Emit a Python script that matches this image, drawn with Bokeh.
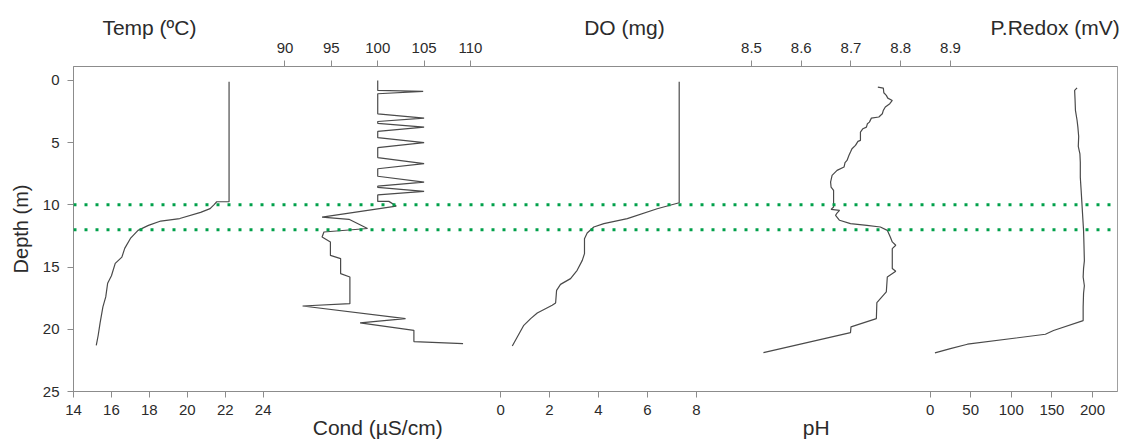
from bokeh.plotting import figure
from bokeh.models import Range1d, LinearAxis, FixedTicker, Span
from bokeh.embed import file_html
from bokeh.resources import INLINE

# ---------------- data ----------------
temp_depth = [0.1, 9.75, 9.75, 10.0, 10.3, 10.6, 11.1, 11.3, 11.65, 12.05, 12.7, 13.5,
              14.2, 14.7, 15.7, 16.3, 17.4, 18.2, 19.5, 20.5, 21.3]
temp_c = [22.2, 22.2, 21.55, 21.4, 21.2, 20.7, 19.6, 18.6, 17.95, 17.4, 17.0, 16.7,
          16.55, 16.2, 16.0, 15.8, 15.7, 15.55, 15.4, 15.3, 15.2]

cond_depth = [0.0, 0.8, 0.88, 1.07, 2.68, 3.03, 3.3, 3.45, 3.75, 4.1, 4.6, 5.0, 5.4,
              6.2, 6.69, 7.1, 7.7, 8.17, 8.5, 8.6, 8.92, 9.2, 9.72, 9.72, 10.1, 10.98,
              11.16, 11.9, 12.18, 12.58, 12.98, 14.06, 14.32, 15.53, 15.8, 17.94, 18.13,
              19.14, 19.49, 20.08, 20.99, 21.15]
cond_us = [100, 100, 104.9, 100, 100, 105, 100, 100, 105, 100, 100, 105, 100,
           100, 105, 100, 100, 105, 100, 100, 105, 100, 100, 101.2, 102.0, 94.0,
           96.9, 98.9, 94.2, 94.0, 94.9, 94.9, 96.0, 96.0, 97.0, 97.0, 91.9,
           103.0, 98.1, 103.9, 103.9, 109.2]

do_depth = [0.1, 9.83, 10.31, 11.11, 11.51, 11.78, 12.26, 12.72, 13.92, 14.46, 15.26,
            15.93, 16.39, 16.87, 17.89, 18.07, 18.69, 19.14, 19.68, 21.34]
do_mg = [7.30, 7.30, 6.40, 5.18, 4.22, 3.81, 3.54, 3.43, 3.43, 3.34, 3.13,
         2.86, 2.45, 2.29, 2.25, 2.11, 1.50, 1.23, 0.95, 0.48]

ph_depth = [0.54, 0.62, 0.99, 1.2, 1.42, 1.61, 1.87, 2.14, 2.41, 2.68, 2.94, 3.03,
            3.35, 3.48, 3.75, 3.88, 4.15, 4.82, 4.9, 5.22, 5.49, 5.76, 6.02, 6.43,
            6.61, 6.96, 7.23, 7.63, 8.17, 8.57, 8.84, 10.17, 10.36, 10.44, 10.71,
            10.84, 11.24, 11.51, 11.65, 11.78, 12.05, 12.58, 12.98, 13.25, 13.52,
            15.12, 15.34, 15.8, 17.0, 17.86, 19.14, 19.81, 20.27, 21.87]
ph_val = [8.754, 8.765, 8.766, 8.771, 8.774, 8.783, 8.778, 8.769, 8.765, 8.763, 8.756, 8.741,
          8.737, 8.733, 8.731, 8.724, 8.719, 8.719, 8.714, 8.709, 8.702, 8.699, 8.696, 8.692,
          8.688, 8.686, 8.672, 8.662, 8.659, 8.660, 8.665, 8.665, 8.660, 8.677, 8.671,
          8.669, 8.677, 8.699, 8.732, 8.759, 8.773, 8.779, 8.783, 8.790, 8.783,
          8.783, 8.790, 8.773, 8.771, 8.752, 8.751, 8.700, 8.699, 8.524]

redox_depth = [0.6, 0.8, 1.5, 2.4, 3.2, 3.75, 4.5, 5.3, 5.9, 6.6, 7.8, 8.8, 9.9, 11.0,
               12.05, 13.2, 14.5, 15.1, 15.8, 16.5, 17.1, 18.2, 19.3, 20.1, 20.4, 21.2,
               21.55, 21.9]
redox_mv = [181, 178, 178.5, 179, 181, 182, 183, 182.5, 184.5, 185, 185, 186, 187, 188,
            189, 189.5, 190, 189, 188.5, 190, 189, 188.5, 188.5, 152, 142, 46, 25, 6]

layer_depths = [10, 12]

depth_ticks = [0, 5, 10, 15, 20, 25]
temp_ticks = [14, 16, 18, 20, 22, 24]
cond_ticks = [90, 95, 100, 105, 110]
do_ticks = [0, 2, 4, 6, 8]
ph_ticks = [8.5, 8.6, 8.7, 8.8, 8.9]
redox_ticks = [0, 50, 100, 150, 200]

top_titles = [("temp", 18, "Temp (ºC)"), ("do", 5.06, "DO (mg)"), ("redox", 154, "P.Redox (mV)")]
bottom_titles = [("cond", 100, "Cond (µS/cm)"), ("ph", 8.63, "pH")]

# ---------------- layout: each variable's scale across the panel ----------------
scales = {
    "temp": (14.0, 69.03),
    "cond": (67.20, 179.76),
    "do": (-17.45, 25.21),
    "ph": (7.1372, 9.2357),
    "redox": (-1054.9, 230.8),
}

FONT = "Liberation Sans"
TXT = "#2b2b2b"
AX = "#8c8c8c"
LINE = "#4a4a4a"
GREEN = "#00a04a"

p = figure(width=1127, height=443, output_backend="svg", toolbar_location=None,
           x_range=Range1d(0, 1), y_range=Range1d(25, -1.12),
           x_axis_location=None, y_axis_location="left",
           min_border_left=73, min_border_right=10, min_border_top=66, min_border_bottom=52)
p.extra_x_ranges = {k: Range1d(a, b) for k, (a, b) in scales.items()}
p.xgrid.visible = False
p.ygrid.visible = False
p.outline_line_color = "#a0a0a0"
p.outline_line_width = 1
p.background_fill_color = "white"
p.border_fill_color = "white"


def frac(name, v):
    a, b = scales[name]
    return (v - a) / (b - a)


def combined_axis(items):
    ticks, labels = [], {}
    for name, v, text in items:
        pos = round(frac(name, v), 9)
        ticks.append(pos)
        labels[pos] = text
    return LinearAxis(ticker=FixedTicker(ticks=ticks, minor_ticks=[]),
                      major_label_overrides=labels)


def style_axis(ax, size="15px"):
    ax.axis_line_color = AX
    ax.major_tick_line_color = AX
    ax.minor_tick_line_color = None
    ax.major_tick_in = 0
    ax.major_tick_out = 6
    ax.major_label_text_font = FONT
    ax.major_label_text_font_size = size
    ax.major_label_text_color = TXT


def title_axis(ax):
    ax.axis_line_color = None
    ax.major_tick_line_color = None
    ax.minor_tick_line_color = None
    ax.major_tick_in = 0
    ax.major_tick_out = 0
    ax.major_label_text_font = FONT
    ax.major_label_text_font_size = "21px"
    ax.major_label_text_color = TXT


def ticks_of(name, vals):
    return [(name, v, "%g" % v) for v in vals]


bottom = combined_axis(ticks_of("temp", temp_ticks) + ticks_of("do", do_ticks)
                       + ticks_of("redox", redox_ticks))
style_axis(bottom)
bottom.major_label_standoff = 7
p.add_layout(bottom, "below")

bottom2 = combined_axis(bottom_titles)
title_axis(bottom2)
bottom2.major_label_standoff = -2
p.add_layout(bottom2, "below")

top = combined_axis(ticks_of("cond", cond_ticks) + ticks_of("ph", ph_ticks))
style_axis(top)
top.major_label_standoff = 8
p.add_layout(top, "above")

top2 = combined_axis(top_titles)
title_axis(top2)
top2.major_label_standoff = 1
p.add_layout(top2, "above")

yax = p.yaxis[0]
yax.ticker = FixedTicker(ticks=depth_ticks, minor_ticks=[])
style_axis(yax)
yax.major_label_standoff = 8
yax.axis_label = "Depth (m)"
yax.axis_label_text_font = FONT
yax.axis_label_text_font_size = "20px"
yax.axis_label_text_font_style = "normal"
yax.axis_label_text_color = TXT
yax.axis_label_standoff = 8

for d in layer_depths:
    p.add_layout(Span(location=d, dimension="width", line_color=GREEN, line_width=3,
                      line_dash="3 8"))

series = [("temp", temp_c, temp_depth), ("cond", cond_us, cond_depth), ("do", do_mg, do_depth),
          ("ph", ph_val, ph_depth), ("redox", redox_mv, redox_depth)]
for name, xs, ys in series:
    p.line(xs, ys, x_range_name=name, line_color=LINE, line_width=1.2)

open("out.html", "w").write(file_html(p, INLINE))
